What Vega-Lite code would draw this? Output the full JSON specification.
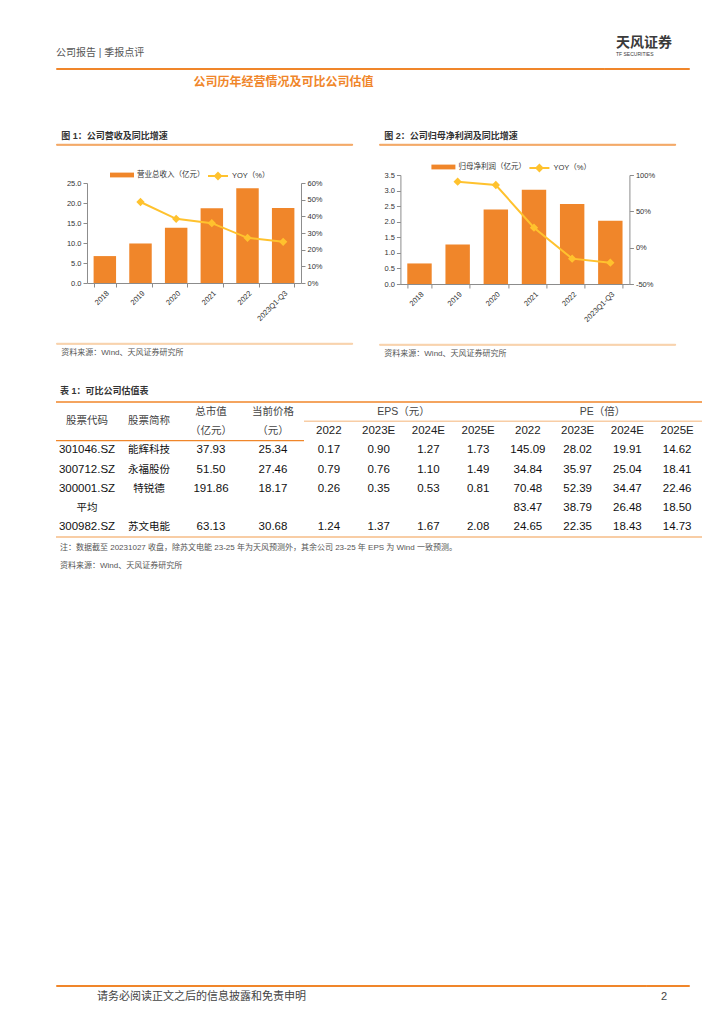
{
  "$schema": "https://vega.github.io/schema/vega-lite/v6.json",
  "background": "white",
  "padding": {"left": 52, "top": 35, "right": 10, "bottom": 5},
  "config": {
    "font": "Liberation Sans, Noto Sans CJK SC",
    "view": {"stroke": null},
    "axis": {"labelFontSize": 7.5, "labelColor": "#333333", "domainColor": "#8c8c8c", "tickColor": "#8c8c8c", "tickSize": 4, "grid": false, "labelPadding": 2},
    "legend": {"labelFontSize": 7.5, "labelColor": "#333333", "orient": "top", "layout": {"top": {"anchor": "middle"}}}
  },
  "datasets": {
    "comps": [
      {"代码": "301046.SZ", "简称": "能辉科技", "总市值": "37.93", "当前价格": "25.34", "EPS2022": "0.17", "EPS2023E": "0.90", "EPS2024E": "1.27", "EPS2025E": "1.73", "PE2022": "145.09", "PE2023E": "28.02", "PE2024E": "19.91", "PE2025E": "14.62"},
      {"代码": "300712.SZ", "简称": "永福股份", "总市值": "51.50", "当前价格": "27.46", "EPS2022": "0.79", "EPS2023E": "0.76", "EPS2024E": "1.10", "EPS2025E": "1.49", "PE2022": "34.84", "PE2023E": "35.97", "PE2024E": "25.04", "PE2025E": "18.41"},
      {"代码": "300001.SZ", "简称": "特锐德", "总市值": "191.86", "当前价格": "18.17", "EPS2022": "0.26", "EPS2023E": "0.35", "EPS2024E": "0.53", "EPS2025E": "0.81", "PE2022": "70.48", "PE2023E": "52.39", "PE2024E": "34.47", "PE2025E": "22.46"},
      {"代码": "平均", "PE2022": "83.47", "PE2023E": "38.79", "PE2024E": "26.48", "PE2025E": "18.50"},
      {"代码": "300982.SZ", "简称": "苏文电能", "总市值": "63.13", "当前价格": "30.68", "EPS2022": "1.24", "EPS2023E": "1.37", "EPS2024E": "1.67", "EPS2025E": "2.08", "PE2022": "24.65", "PE2023E": "22.35", "PE2024E": "18.43", "PE2025E": "14.73"}
    ]
  },
  "spacing": 414,
  "resolve": {"scale": {"fill": "independent", "stroke": "independent"}, "legend": {"fill": "independent", "stroke": "independent"}},
  "vconcat": [
    {
      "spacing": 28,
      "resolve": {"scale": {"fill": "independent", "stroke": "independent"}, "legend": {"fill": "independent", "stroke": "independent"}},
      "vconcat": [
        {
          "spacing": 5,
          "resolve": {"scale": {"fill": "independent", "stroke": "independent"}, "legend": {"fill": "independent", "stroke": "independent"}},
          "vconcat": [
            {
              "spacing": 0,
              "bounds": "flush",
              "hconcat": [
                {"width": 548, "height": 1, "data": {"values": [{}]}, "mark": {"type": "point", "opacity": 0, "size": 1}, "encoding": {},
                 "view": {"stroke": "#F0862A", "strokeWidth": 1},
                 "title": {"text": "公司报告 | 季报点评", "anchor": "start", "fontSize": 10, "fontWeight": "normal", "color": "#555555", "offset": 10}},
                {"width": 85, "height": 1, "data": {"values": [{}]}, "mark": {"type": "point", "opacity": 0, "size": 1}, "encoding": {},
                 "view": {"stroke": "#F0862A", "strokeWidth": 1},
                 "title": {"text": "天风证券", "subtitle": "TF SECURITIES", "anchor": "start", "dx": 12, "fontSize": 14, "fontWeight": "bold", "color": "#3a3a3a", "subtitleFontSize": 5, "subtitleColor": "#3a3a3a", "subtitlePadding": 2, "offset": 11}}
              ]
            },
            {
              "title": {"text": "公司历年经营情况及可比公司估值", "anchor": "start", "dx": 141, "fontSize": 12, "fontWeight": "bold", "color": "#F0862A", "offset": 43},
              "spacing": 14,
              "resolve": {"scale": {"fill": "independent", "stroke": "independent"}, "legend": {"fill": "independent", "stroke": "independent"}},
              "hconcat": [
                {
                  "spacing": 17,
                  "center": true,
                  "resolve": {"scale": {"fill": "independent", "stroke": "independent"}, "legend": {"fill": "independent", "stroke": "independent"}},
                  "vconcat": [
                    {"width": 296, "height": 1, "data": {"values": [{}]}, "mark": {"type": "point", "opacity": 0, "size": 1}, "encoding": {},
                     "view": {"stroke": "#F0862A", "strokeWidth": 0.8},
                     "title": {"text": "图 1：公司营收及同比增速", "anchor": "start", "dx": 5, "fontSize": 9, "fontWeight": "bold", "color": "#333333", "offset": 3}},
                    {
                      "width": 214, "height": 100,
                      "title": {"text": ".", "color": "transparent", "fontSize": 5, "offset": 3},
                      "data": {"values": [
                        {"期间": "2018", "营业总收入": 6.73, "YOY": null},
                        {"期间": "2019", "营业总收入": 9.88, "YOY": 48.6},
                        {"期间": "2020", "营业总收入": 13.79, "YOY": 38.5},
                        {"期间": "2021", "营业总收入": 18.69, "YOY": 35.9},
                        {"期间": "2022", "营业总收入": 23.67, "YOY": 27.1},
                        {"期间": "2023Q1-Q3", "营业总收入": 18.77, "YOY": 24.7}
                      ]},
                      "encoding": {"x": {"field": "期间", "type": "ordinal", "sort": null, "scale": {"paddingInner": 0.37, "paddingOuter": 0.185}, "axis": {"title": "a", "titleOpacity": 0, "titleFontSize": 2, "titlePadding": 0, "labelAngle": -45, "tickBand": "extent"}}},
                      "layer": [
                        {"mark": {"type": "bar", "color": "#F0862A"},
                         "encoding": {
                           "y": {"field": "营业总收入", "type": "quantitative", "scale": {"domain": [0, 25]}, "axis": {"title": "a", "titleOpacity": 0, "titleFontSize": 8, "titlePadding": 6, "values": [0, 5, 10, 15, 20, 25], "format": ".1f"}},
                           "fill": {"datum": "营业总收入（亿元）", "scale": {"range": ["#F0862A"]}, "legend": {"title": null, "symbolType": "M-3,-0.6H3V0.6H-3Z", "symbolSize": 64, "symbolStrokeWidth": 0, "labelOffset": 11, "padding": 0, "offset": 0}}
                         }},
                        {"mark": {"type": "line", "color": "#FFC22E", "strokeWidth": 2, "point": {"shape": "diamond", "filled": true, "size": 30, "color": "#FFC22E"}},
                         "encoding": {
                           "y": {"field": "YOY", "type": "quantitative", "scale": {"domain": [0, 60]}, "axis": {"orient": "right", "title": null, "values": [0, 10, 20, 30, 40, 50, 60], "labelExpr": "datum.value + '%'"}},
                           "stroke": {"datum": "YOY（%）", "scale": {"range": ["#FFC22E"]}, "legend": {"title": null, "symbolType": "M-2.5,0H2.5M0,-0.75L0.75,0L0,0.75L-0.75,0Z", "symbolSize": 64, "symbolStrokeWidth": 2, "symbolFillColor": "#FFC22E", "labelOffset": 9, "padding": 0, "offset": 0, "encode": {"symbols": {"update": {"fill": {"value": "#FFC22E"}, "stroke": {"value": "#FFC22E"}}}}}}
                         }}
                      ],
                      "resolve": {"scale": {"y": "independent"}}
                    },
                    {"width": 296, "height": 1, "data": {"values": [{}]}, "mark": {"type": "point", "opacity": 0, "size": 1}, "encoding": {},
                     "view": {"stroke": "#F6C08C", "strokeWidth": 0.8},
                     "title": {"text": "资料来源：Wind、天风证券研究所", "orient": "bottom", "anchor": "start", "dx": 5, "fontSize": 8, "fontWeight": "normal", "color": "#555555", "offset": 5}}
                  ]
                },
                {
                  "spacing": 17,
                  "center": true,
                  "resolve": {"scale": {"fill": "independent", "stroke": "independent"}, "legend": {"fill": "independent", "stroke": "independent"}},
                  "vconcat": [
                    {"width": 296, "height": 1, "data": {"values": [{}]}, "mark": {"type": "point", "opacity": 0, "size": 1}, "encoding": {},
                     "view": {"stroke": "#F0862A", "strokeWidth": 0.8},
                     "title": {"text": "图 2：公司归母净利润及同比增速", "anchor": "start", "dx": 5, "fontSize": 9, "fontWeight": "bold", "color": "#333333", "offset": 3}},
                    {
                      "width": 229, "height": 109,
                      "data": {"values": [
                        {"期间": "2018", "归母净利润": 0.66, "YOY": null},
                        {"期间": "2019", "归母净利润": 1.27, "YOY": 90.8},
                        {"期间": "2020", "归母净利润": 2.39, "YOY": 86.2},
                        {"期间": "2021", "归母净利润": 3.03, "YOY": 27.5},
                        {"期间": "2022", "归母净利润": 2.57, "YOY": -15.1},
                        {"期间": "2023Q1-Q3", "归母净利润": 2.03, "YOY": -20.6}
                      ]},
                      "encoding": {"x": {"field": "期间", "type": "ordinal", "sort": null, "scale": {"paddingInner": 0.36, "paddingOuter": 0.18}, "axis": {"title": "a", "titleOpacity": 0, "titleFontSize": 2, "titlePadding": 0, "labelAngle": -45, "tickBand": "extent"}}},
                      "layer": [
                        {"mark": {"type": "bar", "color": "#F0862A"},
                         "encoding": {
                           "y": {"field": "归母净利润", "type": "quantitative", "scale": {"domain": [0, 3.5]}, "axis": {"title": "a", "titleOpacity": 0, "titleFontSize": 8, "titlePadding": 8, "values": [0, 0.5, 1, 1.5, 2, 2.5, 3, 3.5], "format": ".1f"}},
                           "fill": {"datum": "归母净利润（亿元）", "scale": {"range": ["#F0862A"]}, "legend": {"title": null, "symbolType": "M-3,-0.6H3V0.6H-3Z", "symbolSize": 64, "symbolStrokeWidth": 0, "labelOffset": 11, "padding": 0, "offset": 0}}
                         }},
                        {"mark": {"type": "line", "color": "#FFC22E", "strokeWidth": 2, "point": {"shape": "diamond", "filled": true, "size": 30, "color": "#FFC22E"}},
                         "encoding": {
                           "y": {"field": "YOY", "type": "quantitative", "scale": {"domain": [-50, 100]}, "axis": {"orient": "right", "title": null, "values": [-50, 0, 50, 100], "labelExpr": "datum.value + '%'"}},
                           "stroke": {"datum": "YOY（%）", "scale": {"range": ["#FFC22E"]}, "legend": {"title": null, "symbolType": "M-2.5,0H2.5M0,-0.75L0.75,0L0,0.75L-0.75,0Z", "symbolSize": 64, "symbolStrokeWidth": 2, "symbolFillColor": "#FFC22E", "labelOffset": 9, "padding": 0, "offset": 0, "encode": {"symbols": {"update": {"fill": {"value": "#FFC22E"}, "stroke": {"value": "#FFC22E"}}}}}}
                         }}
                      ],
                      "resolve": {"scale": {"y": "independent"}}
                    },
                    {"width": 296, "height": 1, "data": {"values": [{}]}, "mark": {"type": "point", "opacity": 0, "size": 1}, "encoding": {},
                     "view": {"stroke": "#F6C08C", "strokeWidth": 0.8},
                     "title": {"text": "资料来源：Wind、天风证券研究所", "orient": "bottom", "anchor": "start", "dx": 5, "fontSize": 8, "fontWeight": "normal", "color": "#555555", "offset": 5}}
                  ]
                }
              ]
            }
          ]
        },
        {
          "title": {"text": "表 1：可比公司估值表", "anchor": "start", "dx": 5, "fontSize": 9, "fontWeight": "bold", "color": "#333333", "offset": 5},
          "vconcat": [
            {
              "title": {"text": "注：数据截至 20231027 收盘，除苏文电能 23-25 年为天风预测外，其余公司 23-25 年 EPS 为 Wind 一致预测。", "subtitle": "资料来源：Wind、天风证券研究所", "orient": "bottom", "anchor": "start", "dx": 5, "fontSize": 8, "fontWeight": "normal", "color": "#555555", "subtitleFontSize": 8, "subtitleColor": "#555555", "subtitlePadding": 10, "offset": 6},
              "spacing": 0,
              "bounds": "flush",
              "hconcat": [
                {
                  "width": 248, "height": 135,
                  "layer": [
                    {
                      "data": {"name": "comps"},
                      "transform": [{"fold": ["代码", "简称", "总市值", "当前价格"], "as": ["列", "值"]}, {"filter": "isValid(datum['值'])"}],
                      "mark": {"type": "text", "color": "#111111"},
                      "encoding": {
                        "x": {"field": "列", "type": "nominal", "scale": {"type": "band", "domain": ["代码", "简称", "总市值", "当前价格"], "paddingInner": 0, "paddingOuter": 0}, "axis": null},
                        "y": {"field": "代码", "type": "nominal", "scale": {"type": "band", "domain": ["h1", "h2", "301046.SZ", "300712.SZ", "300001.SZ", "平均", "300982.SZ"], "paddingInner": 0, "paddingOuter": 0}, "axis": null},
                        "text": {"field": "值", "type": "nominal"},
                        "size": {"condition": {"test": "datum['列'] === '简称' || datum['值'] === '平均'", "value": 10.5}, "value": 11.5}
                      }
                    },
                    {
                      "data": {"values": [
                        {"hr": "h1", "hc": "总市值", "t": "总市值"},
                        {"hr": "h2", "hc": "总市值", "t": "（亿元）"},
                        {"hr": "h1", "hc": "当前价格", "t": "当前价格"},
                        {"hr": "h2", "hc": "当前价格", "t": "（元）"}
                      ]},
                      "mark": {"type": "text", "fontSize": 10.5, "color": "#444444"},
                      "encoding": {"x": {"field": "hc", "type": "nominal"}, "y": {"field": "hr", "type": "nominal"}, "text": {"field": "t"}}
                    },
                    {
                      "data": {"values": [
                        {"hr": "h1", "hc": "代码", "t": "股票代码"},
                        {"hr": "h1", "hc": "简称", "t": "股票简称"}
                      ]},
                      "mark": {"type": "text", "fontSize": 10.5, "color": "#444444"},
                      "encoding": {"x": {"field": "hc", "type": "nominal"}, "y": {"field": "hr", "type": "nominal", "bandPosition": 1}, "text": {"field": "t"}}
                    },
                    {"data": {"values": [{}]}, "mark": {"type": "rule", "color": "#F0862A", "strokeWidth": 1.5}, "encoding": {"y": {"datum": "h1", "type": "nominal", "bandPosition": 0}}},
                    {"data": {"values": [{}]}, "mark": {"type": "rule", "color": "#F0862A", "strokeWidth": 1.2}, "encoding": {"y": {"datum": "301046.SZ", "type": "nominal", "bandPosition": 0}}},
                    {"data": {"values": [{}]}, "mark": {"type": "rule", "color": "#F8CDA5", "strokeWidth": 2}, "encoding": {"y": {"datum": "300982.SZ", "type": "nominal", "bandPosition": 1}}}
                  ]
                },
                {
                  "width": 398, "height": 135,
                  "layer": [
                    {
                      "data": {"name": "comps"},
                      "transform": [{"fold": ["EPS2022", "EPS2023E", "EPS2024E", "EPS2025E", "PE2022", "PE2023E", "PE2024E", "PE2025E"], "as": ["列", "值"]}, {"filter": "isValid(datum['值'])"}],
                      "mark": {"type": "text", "color": "#111111", "fontSize": 11.5},
                      "encoding": {
                        "x": {"field": "列", "type": "nominal", "scale": {"type": "band", "domain": ["EPS2022", "EPS2023E", "EPS2024E", "EPS2025E", "PE2022", "PE2023E", "PE2024E", "PE2025E"], "paddingInner": 0, "paddingOuter": 0}, "axis": null},
                        "y": {"field": "代码", "type": "nominal", "scale": {"type": "band", "domain": ["h1", "h2", "301046.SZ", "300712.SZ", "300001.SZ", "平均", "300982.SZ"], "paddingInner": 0, "paddingOuter": 0}, "axis": null},
                        "text": {"field": "值", "type": "nominal"}
                      }
                    },
                    {
                      "data": {"values": [
                        {"hr": "h2", "hc": "EPS2022", "t": "2022"},
                        {"hr": "h2", "hc": "EPS2023E", "t": "2023E"},
                        {"hr": "h2", "hc": "EPS2024E", "t": "2024E"},
                        {"hr": "h2", "hc": "EPS2025E", "t": "2025E"},
                        {"hr": "h2", "hc": "PE2022", "t": "2022"},
                        {"hr": "h2", "hc": "PE2023E", "t": "2023E"},
                        {"hr": "h2", "hc": "PE2024E", "t": "2024E"},
                        {"hr": "h2", "hc": "PE2025E", "t": "2025E"}
                      ]},
                      "mark": {"type": "text", "fontSize": 11.5, "color": "#222222"},
                      "encoding": {"x": {"field": "hc", "type": "nominal"}, "y": {"field": "hr", "type": "nominal"}, "text": {"field": "t"}}
                    },
                    {
                      "data": {"values": [
                        {"hr": "h1", "hc": "EPS2023E", "t": "EPS（元）"},
                        {"hr": "h1", "hc": "PE2023E", "t": "PE（倍）"}
                      ]},
                      "mark": {"type": "text", "fontSize": 10.5, "color": "#444444"},
                      "encoding": {"x": {"field": "hc", "type": "nominal", "bandPosition": 1}, "y": {"field": "hr", "type": "nominal"}, "text": {"field": "t"}}
                    },
                    {"data": {"values": [{}]}, "mark": {"type": "rule", "color": "#F0862A", "strokeWidth": 1.5}, "encoding": {"y": {"datum": "h1", "type": "nominal", "bandPosition": 0}}},
                    {"data": {"values": [{}]}, "mark": {"type": "rule", "color": "#F8CDA5", "strokeWidth": 1.5}, "encoding": {"y": {"datum": "h2", "type": "nominal", "bandPosition": 0}}},
                    {"data": {"values": [{}]}, "mark": {"type": "rule", "color": "#F8CDA5", "strokeWidth": 2}, "encoding": {"y": {"datum": "300982.SZ", "type": "nominal", "bandPosition": 1}}}
                  ]
                }
              ]
            }
          ]
        }
      ]
    },
    {
      "spacing": 0,
      "bounds": "flush",
      "hconcat": [
        {"width": 590, "height": 1, "data": {"values": [{}]}, "mark": {"type": "point", "opacity": 0, "size": 1}, "encoding": {},
         "view": {"stroke": "#F0862A", "strokeWidth": 1},
         "title": {"text": "请务必阅读正文之后的信息披露和免责申明", "orient": "bottom", "anchor": "start", "dx": 41, "fontSize": 11, "fontWeight": "normal", "color": "#444444", "offset": 5}},
        {"width": 43, "height": 1, "data": {"values": [{}]}, "mark": {"type": "point", "opacity": 0, "size": 1}, "encoding": {},
         "view": {"stroke": "#F0862A", "strokeWidth": 1},
         "title": {"text": "2", "orient": "bottom", "anchor": "start", "dx": 15, "fontSize": 11, "fontWeight": "normal", "color": "#444444", "offset": 5}}
      ]
    }
  ]
}
